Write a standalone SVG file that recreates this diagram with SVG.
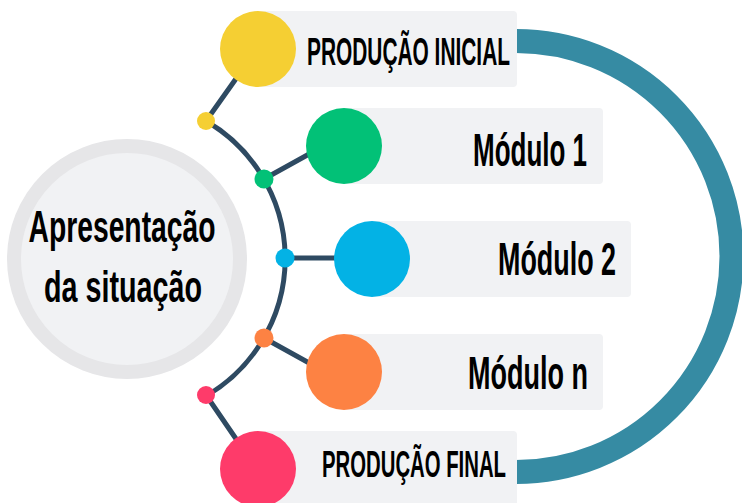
<svg xmlns="http://www.w3.org/2000/svg" width="742" height="503" viewBox="0 0 742 503">
<style>
.t{font-family:"Liberation Sans","DejaVu Sans",Arial,sans-serif;font-weight:bold;fill:#000}
.box{fill:#f1f2f4}
.ln{stroke:#2e4a62;stroke-width:5;fill:none;stroke-linecap:round}
</style>
<rect width="742" height="503" fill="#ffffff"/>
<g id="loop">
<path d="M516,41 A215.5,215.5 0 0 1 516,472" fill="none" stroke="#368ba3" stroke-width="24"/>
</g>
<g id="center">
<circle cx="127" cy="259" r="113" fill="#f1f2f4" stroke="#e6e6e8" stroke-width="14"/>
<text class="t" x="122" y="242" font-size="44" text-anchor="middle" textLength="187" lengthAdjust="spacingAndGlyphs">Apresentação</text>
<text class="t" x="123" y="302" font-size="44" text-anchor="middle" textLength="158" lengthAdjust="spacingAndGlyphs">da situação</text>
</g>
<g id="connectors">
<path class="ln" d="M206,121 A159,159 0 0 1 206,396"/>
<line class="ln" x1="206" y1="121" x2="245" y2="66"/>
<line class="ln" x1="264" y1="179" x2="320" y2="148"/>
<line class="ln" x1="285" y1="258" x2="345" y2="258"/>
<line class="ln" x1="264" y1="338" x2="320" y2="369"/>
<line class="ln" x1="206" y1="395" x2="245" y2="452"/>
</g>
<g id="producao-inicial">
<rect class="box" x="258" y="11" width="259" height="76" rx="4"/>
<circle cx="258" cy="49" r="38" fill="#f5cf33"/>
<circle cx="206" cy="121" r="9" fill="#f5cf33"/>
<text class="t" x="307" y="65" font-size="38.5" textLength="203" lengthAdjust="spacingAndGlyphs">PRODUÇÃO INICIAL</text>
</g>
<g id="modulo-1">
<rect class="box" x="344" y="108" width="259" height="76" rx="4"/>
<circle cx="344" cy="146" r="38" fill="#02c177"/>
<circle cx="264" cy="179" r="9.5" fill="#02c177"/>
<text class="t" x="473" y="166" font-size="46" textLength="114" lengthAdjust="spacingAndGlyphs">Módulo 1</text>
</g>
<g id="modulo-2">
<rect class="box" x="372" y="221" width="259" height="76" rx="4"/>
<circle cx="372" cy="259" r="38" fill="#03b2e5"/>
<circle cx="285" cy="258" r="9.5" fill="#03b2e5"/>
<text class="t" x="498" y="275" font-size="46" textLength="118" lengthAdjust="spacingAndGlyphs">Módulo 2</text>
</g>
<g id="modulo-n">
<rect class="box" x="344" y="334" width="259" height="76" rx="4"/>
<circle cx="344" cy="372" r="38" fill="#fd8243"/>
<circle cx="264" cy="338" r="9.5" fill="#fd8243"/>
<text class="t" x="468" y="389" font-size="46" textLength="120" lengthAdjust="spacingAndGlyphs">Módulo n</text>
</g>
<g id="producao-final">
<rect class="box" x="258" y="431" width="259" height="80" rx="4"/>
<circle cx="258" cy="469" r="38" fill="#fe3b6a"/>
<circle cx="206" cy="395" r="9" fill="#fe3b6a"/>
<text class="t" x="322" y="477" font-size="36.5" textLength="184" lengthAdjust="spacingAndGlyphs">PRODUÇÃO FINAL</text>
</g>
</svg>
